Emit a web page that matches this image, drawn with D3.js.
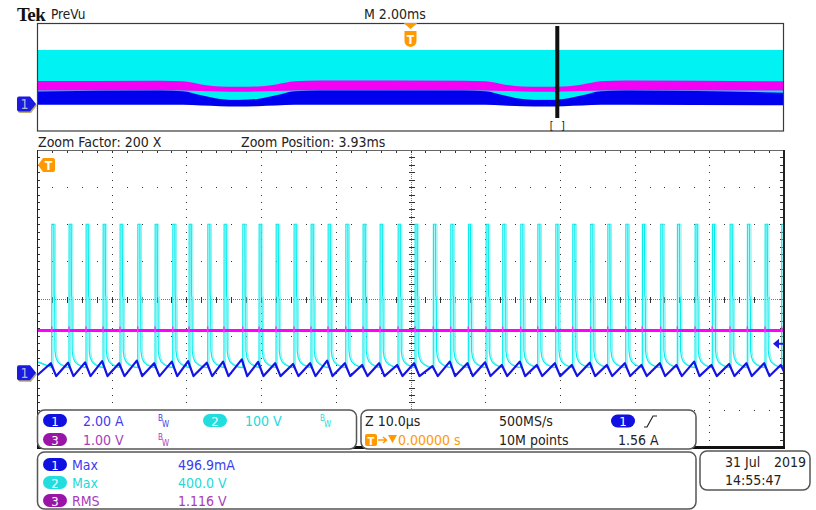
<!DOCTYPE html>
<html>
<head>
<meta charset="utf-8">
<script src="https://cdn.jsdelivr.net/npm/d3@7/dist/d3.min.js"></script>
<style>
  body { margin: 0; background: #fff; }
  svg { display: block; }
  text { font-family: "DejaVu Sans Condensed", "DejaVu Sans", sans-serif; }
</style>
</head>
<body>
<div id="scope"></div>
<script>
'use strict';

// ---- channel setup (all three grounds sit 2 div below centre)
var chScale  = { 1: 2.00, 2: 100, 3: 1.00 };   // units per div
var chOffset = -2;                               // div
var chColor  = { 1: '#1414e6', 2: '#00eeee', 3: '#ff00ff' };

// ---- PreVu envelopes, whole record at 2.00 ms/div
var preTime    = [0, 3.3, 3.9, 4.4, 4.9, 5.4, 5.9, 6.4, 6.9, 7.6, 11.4, 12.0, 12.5, 13.0, 13.6, 14.1, 14.6, 15.1, 15.8, 20];
var preCh2Top  = [400, 400, 400, 400, 400, 400, 400, 400, 400, 400, 400, 400, 400, 400, 400, 400, 400, 400, 400, 400];
var preCh2Bot  = [32, 32, 32, 32, 32, 32, 32, 32, 32, 32, 32, 32, 32, 32, 32, 32, 32, 32, 32, 32];
var preCh3Top  = [1.70, 1.73, 1.68, 1.45, 1.30, 1.27, 1.30, 1.45, 1.68, 1.74, 1.73, 1.68, 1.45, 1.30, 1.27, 1.30, 1.45, 1.68, 1.74, 1.68];
var preCh3Bot  = [1.00, 1.00, 1.00, 0.97, 0.93, 0.91, 0.93, 0.97, 1.00, 1.00, 1.00, 1.00, 0.97, 0.93, 0.91, 0.93, 0.97, 1.00, 1.00, 1.00];
var preCh1Top  = [1.86, 2.00, 1.90, 1.30, 0.75, 0.62, 0.75, 1.30, 1.90, 2.00, 2.00, 1.90, 1.30, 0.75, 0.62, 0.75, 1.30, 1.90, 2.00, 1.68];
var preCh1Bot  = [-0.10, -0.10, -0.12, -0.24, -0.34, -0.38, -0.34, -0.24, -0.12, -0.10, -0.10, -0.12, -0.24, -0.34, -0.38, -0.34, -0.24, -0.12, -0.10, -0.20];
var zoomPos = 13.93;   // ms, 3.93 ms after trigger

// ---- zoomed window, 10.0 us/div (0..100 us)
var pulseTimes = [1.97, 4.28, 6.56, 8.84, 11.11, 13.48, 15.80, 18.17, 20.35, 22.85, 25.03, 27.54, 29.72,
                  32.00, 34.40, 36.68, 38.96, 41.33, 43.64, 45.92, 48.33, 50.60, 53.05, 55.38, 57.74, 60.11,
                  62.34, 64.75, 67.03, 69.44, 71.71, 74.12, 76.40, 78.81, 81.03, 83.49, 85.72, 88.09, 90.40,
                  92.77, 95.09, 97.46, 99.69];
var ch1Peaks = [0.51, 0.54, 0.56, 0.63, 0.51, 0.65, 0.51, 0.60, 0.63, 0.54, 0.60, 0.72, 0.58, 0.51, 0.47,
                0.51, 0.65, 0.51, 0.42, 0.51, 0.42, 0.51, 0.36, 0.60, 0.51, 0.56, 0.42, 0.60, 0.42, 0.51,
                0.42, 0.54, 0.42, 0.51, 0.42, 0.51, 0.42, 0.60, 0.42, 0.47, 0.51, 0.51, 0.42];
var ch1Trough = -0.18;      // A
var ch2Edge = [[0, 14], [0.02, 400], [0.30, 400], [0.33, 210], [0.40, 200], [0.43, 60],
               [0.55, 42], [0.80, 30], [1.20, 22], [1.90, 15]];   // [us after edge, V]
var ch3Level = 1.14;        // V
var trigLevel = 1.56;       // A

// ---- readouts
var settingsRows = [
  [{ ch: 1, x: 43, text: '2.00 A', tx: 83, bw: 158 }, { ch: 2, x: 203, text: '100 V', tx: 245, bw: 320 }],
  [{ ch: 3, x: 43, text: '1.00 V', tx: 83, bw: 158 }]
];
var measRows = [
  { ch: 1, name: 'Max', value: '496.9mA' },
  { ch: 2, name: 'Max', value: '400.0 V' },
  { ch: 3, name: 'RMS', value: '1.116 V' }
];
var pillColor = { 1: '#1010e0', 2: '#22dddd', 3: '#9a14a8' };
var textColor = { 1: '#3c3cf0', 2: '#22dada', 3: '#a83cb8' };
var orange = '#ff9900';

var W = 816, H = 510;
var svg = d3.select('#scope').append('svg').attr('width', W).attr('height', H);

function toDiv(ch, v) { return v / chScale[ch] + chOffset; }

// =========================== PreVu window
var xPre = d3.scaleLinear().domain([0, 20]).range([37, 784]);
var yPre = d3.scaleLinear().domain([-4, 4]).range([131, 23]);

function band(ch, top, bot) {
  return d3.area()
    .curve(d3.curveMonotoneX)
    .x(function(d, i) { return xPre(preTime[i]); })
    .y0(function(d, i) { return yPre(toDiv(ch, bot[i])); })
    .y1(function(d, i) { return yPre(toDiv(ch, top[i])); })(preTime);
}
var pre = svg.append('g');
pre.append('path').attr('d', band(2, preCh2Top, preCh2Bot)).attr('fill', '#00f2f2');
pre.append('path').attr('d', band(3, preCh3Top, preCh3Bot)).attr('fill', '#f400f4');
pre.append('path').attr('d', band(1, preCh1Top, preCh1Bot)).attr('fill', '#0000ee');
pre.append('rect').attr('x', 37.5).attr('y', 23.5).attr('width', 746).attr('height', 107.5)
   .attr('fill', 'none').attr('stroke', '#3a3a3a').attr('stroke-width', 1.2);

// zoom position bar
pre.append('rect').attr('x', xPre(zoomPos) - 2).attr('y', 26).attr('width', 4).attr('height', 92).attr('fill', '#111');
pre.append('text').attr('x', xPre(zoomPos)).attr('y', 129).attr('text-anchor', 'middle')
   .attr('font-size', 10).style('font-family', 'DejaVu Sans Mono').attr('fill', '#222').text('[ ]');

// trigger marker on top of PreVu
var tx = xPre(10);
pre.append('path').attr('d', 'M' + (tx - 7) + ',23 H' + (tx + 7) + ' L' + tx + ',29 Z').attr('fill', orange);
pre.append('path').attr('d', 'M' + (tx - 6) + ',31 H' + (tx + 6) + ' V41 Q' + (tx + 6) + ',46 ' + tx + ',47 Q' + (tx - 6) + ',46 ' + (tx - 6) + ',41 Z')
   .attr('fill', orange);
pre.append('text').attr('x', tx).attr('y', 43.5).attr('text-anchor', 'middle').attr('font-size', 12)
   .attr('font-weight', 'bold').attr('fill', '#fff').text('T');

// ch1 ground marker
function chMarker(y) {
  var g = svg.append('g');
  var d = 'M19,' + (y - 7.5) + ' H30 L36,' + y + ' L30,' + (y + 7.5) + ' H19 Q17,' + (y + 7.5) + ' 17,' + (y + 5.5) + ' V' + (y - 5.5) + ' Q17,' + (y - 7.5) + ' 19,' + (y - 7.5) + ' Z';
  g.append('path').attr('d', d).attr('fill', '#b8aa70').attr('transform', 'translate(1,1.5)');
  g.append('path').attr('d', d).attr('fill', '#1a1ae0');
  g.append('text').attr('x', 24.5).attr('y', y + 5).attr('text-anchor', 'middle').attr('font-size', 14)
   .attr('fill', '#b4b4d8').text('1');
}
chMarker(yPre(chOffset));

// =========================== main (zoom) graticule
var x0 = 37, x1 = 784, y0 = 150, y1 = 447;
var xMain = d3.scaleLinear().domain([0, 100]).range([x0, x1]);
var yMain = d3.scaleLinear().domain([-4, 4]).range([y1, y0]);
var grid = svg.append('g').attr('shape-rendering', 'crispEdges');

var minorX = d3.range(1, 50).map(function(k) { return x0 + k * (x1 - x0) / 50; });
var minorY = d3.range(1, 40).map(function(k) { return y0 + k * (y1 - y0) / 40; });
var majorX = [1, 2, 3, 4, 6, 7, 8, 9].map(function(k) { return xMain(k * 10); });
var majorY = [-3, -2, -1, 1, 2, 3].map(function(k) { return yMain(k); });

majorX.forEach(function(gx) {
  grid.selectAll(null).data(minorY).enter().append('rect')
    .attr('x', Math.round(gx)).attr('y', function(d) { return Math.round(d); })
    .attr('width', 1).attr('height', 1).attr('fill', '#333');
});
majorY.forEach(function(gy) {
  grid.selectAll(null).data(minorX).enter().append('rect')
    .attr('x', function(d) { return Math.round(d); }).attr('y', Math.round(gy))
    .attr('width', 1).attr('height', 1).attr('fill', '#333');
});

// centre cross
var cx = Math.round(xMain(50)) + 0.5, cy = Math.round(yMain(0)) + 0.5;
grid.append('line').attr('x1', cx).attr('x2', cx).attr('y1', y0).attr('y2', y1)
    .attr('stroke', '#777').attr('stroke-dasharray', '1,1');
grid.append('line').attr('x1', x0).attr('x2', x1).attr('y1', cy).attr('y2', cy)
    .attr('stroke', '#777').attr('stroke-dasharray', '1,1');
grid.selectAll(null).data(minorY).enter().append('line')
    .attr('x1', cx - 3).attr('x2', cx + 3).attr('y1', function(d) { return Math.round(d) + 0.5; })
    .attr('y2', function(d) { return Math.round(d) + 0.5; }).attr('stroke', '#333');
grid.selectAll(null).data(minorX).enter().append('line')
    .attr('y1', cy - 3).attr('y2', cy + 3).attr('x1', function(d) { return Math.round(d) + 0.5; })
    .attr('x2', function(d) { return Math.round(d) + 0.5; }).attr('stroke', '#333');

// edge ticks
grid.selectAll(null).data(minorX).enter().append('line')
    .attr('x1', function(d) { return Math.round(d) + 0.5; }).attr('x2', function(d) { return Math.round(d) + 0.5; })
    .attr('y1', y0).attr('y2', y0 + 3).attr('stroke', '#333');
grid.selectAll(null).data(minorY).enter().append('line')
    .attr('y1', function(d) { return Math.round(d) + 0.5; }).attr('y2', function(d) { return Math.round(d) + 0.5; })
    .attr('x1', x0).attr('x2', x0 + 3).attr('stroke', '#333');
grid.selectAll(null).data(minorY).enter().append('line')
    .attr('y1', function(d) { return Math.round(d) + 0.5; }).attr('y2', function(d) { return Math.round(d) + 0.5; })
    .attr('x1', x1 - 4).attr('x2', x1).attr('stroke', '#333');

// frame
grid.append('line').attr('x1', x0).attr('x2', x1).attr('y1', y0 + 0.5).attr('y2', y0 + 0.5).attr('stroke', '#666').attr('stroke-width', 1.5);
grid.append('line').attr('x1', x0 + 0.5).attr('x2', x0 + 0.5).attr('y1', y0).attr('y2', y1).attr('stroke', '#222');
grid.append('line').attr('x1', x1).attr('x2', x1).attr('y1', y0).attr('y2', y1 + 1).attr('stroke', '#222').attr('stroke-width', 2);
grid.append('line').attr('x1', x0).attr('x2', x1 + 1).attr('y1', y1).attr('y2', y1).attr('stroke', '#111').attr('stroke-width', 3);

// =========================== main traces
svg.append('clipPath').attr('id', 'screen').append('rect')
   .attr('x', x0 + 1).attr('y', y0).attr('width', x1 - x0 - 2).attr('height', y1 - y0);
var traces = svg.append('g').attr('clip-path', 'url(#screen)');
var line = d3.line().x(function(d) { return xMain(d[0]); }).y(function(d) { return yMain(d[1]); });

// ch2: switch node
var ch2Pts = [[0, toDiv(2, 30)]];
pulseTimes.forEach(function(t0) {
  ch2Edge.forEach(function(p) { ch2Pts.push([t0 + p[0], toDiv(2, p[1])]); });
});
traces.append('path').attr('d', line(ch2Pts.map(function(p) { return [p[0] + 0.2, p[1]]; })))
      .attr('fill', 'none').attr('stroke', '#86f4f4').attr('stroke-width', 1);
traces.append('path').attr('d', line(ch2Pts))
      .attr('fill', 'none').attr('stroke', '#08ecec').attr('stroke-width', 1.2);

// ch3: flat with switching blips
var ch3Y = toDiv(3, ch3Level);
traces.append('path').attr('d', line([[0, ch3Y], [100, ch3Y]]))
      .attr('stroke', chColor[3]).attr('stroke-width', 3);
traces.selectAll(null).data(pulseTimes).enter().append('line')
      .attr('x1', function(d) { return xMain(d); }).attr('x2', function(d) { return xMain(d); })
      .attr('y1', yMain(ch3Y) - 4).attr('y2', yMain(ch3Y) + 2)
      .attr('stroke', '#ff30ff').attr('stroke-width', 1.5);

// ch1: inductor current sawtooth
var ch1Pts = [[0, -0.15]];
pulseTimes.forEach(function(t0, i) {
  ch1Pts.push([t0 - 0.12, ch1Peaks[i]]);
  ch1Pts.push([t0 + 0.6, ch1Trough]);
});
traces.append('path').attr('d', line(ch1Pts.map(function(p) { return [p[0], toDiv(1, p[1])]; })))
      .attr('fill', 'none').attr('stroke', chColor[1]).attr('stroke-width', 2.2).attr('stroke-linejoin', 'round');

// trigger level arrow on the right
var ty = yMain(toDiv(1, trigLevel));
svg.append('path').attr('d', 'M773,' + ty + ' L779,' + (ty - 5) + ' V' + (ty + 5) + ' Z').attr('fill', '#1a1ae0');
svg.append('line').attr('x1', 777).attr('x2', 784).attr('y1', ty).attr('y2', ty).attr('stroke', '#1a1ae0').attr('stroke-width', 2);

// trigger position marker
svg.append('path').attr('d', 'M38,165 L43,158 H53 Q55,158 55,160 V170 Q55,172 53,172 H43 Z').attr('fill', orange);
svg.append('text').attr('x', 48.5).attr('y', 170).attr('text-anchor', 'middle').attr('font-size', 12)
   .attr('font-weight', 'bold').attr('fill', '#fff').text('T');

chMarker(yMain(chOffset));

// =========================== top labels
svg.append('text').attr('x', 17).attr('y', 20.5).style('font-family', '"Liberation Serif", "DejaVu Serif", serif')
   .attr('font-weight', 'bold').attr('font-size', 19).attr('letter-spacing', -0.6).attr('fill', '#111').text('Tek');
svg.append('text').attr('x', 51).attr('y', 19).attr('font-size', 13.5).attr('fill', '#222').text('PreVu');
svg.append('text').attr('x', 364).attr('y', 19).attr('font-size', 14).attr('fill', '#222').text('M 2.00ms');
svg.append('text').attr('x', 38).attr('y', 147).attr('font-size', 14).attr('fill', '#222').text('Zoom Factor: 200 X');
svg.append('text').attr('x', 241).attr('y', 147).attr('font-size', 14).attr('fill', '#222').text('Zoom Position: 3.93ms');

// =========================== readout panels
function panel(x, y, w, h) {
  svg.append('rect').attr('x', x).attr('y', y).attr('width', w).attr('height', h).attr('rx', 7)
     .attr('fill', '#fff').attr('stroke', '#555').attr('stroke-width', 1.5);
}
function pill(x, y, ch) {
  svg.append('rect').attr('x', x).attr('y', y).attr('width', 24).attr('height', 13).attr('rx', 6.5)
     .attr('fill', pillColor[ch]);
  svg.append('text').attr('x', x + 12).attr('y', y + 11.5).attr('text-anchor', 'middle').attr('font-size', 13)
     .attr('fill', '#fff').text(ch);
}
function bw(x, y, color) {
  svg.append('text').attr('x', x).attr('y', y - 5).attr('font-size', 8).attr('fill', color).text('B');
  svg.append('text').attr('x', x + 4).attr('y', y + 1).attr('font-size', 8).attr('fill', color).text('W');
}

panel(37.5, 410, 319, 39);
panel(361, 410, 335, 39);
panel(37.5, 452, 658.5, 57);
panel(700, 451, 110, 39);

settingsRows.forEach(function(row, r) {
  var base = r === 0 ? 426 : 445;
  row.forEach(function(c) {
    pill(c.x, base - 12, c.ch);
    svg.append('text').attr('x', c.tx).attr('y', base).attr('font-size', 14).attr('fill', textColor[c.ch]).text(c.text);
    bw(c.bw, base, textColor[c.ch]);
  });
});

svg.append('text').attr('x', 365).attr('y', 426).attr('font-size', 14).attr('fill', '#222').text('Z 10.0µs');
svg.append('text').attr('x', 499).attr('y', 426).attr('font-size', 14).attr('fill', '#222').text('500MS/s');
pill(611, 414.5, 1);
svg.append('path').attr('d', 'M644,427 H647 L653,416 H657').attr('fill', 'none').attr('stroke', '#222').attr('stroke-width', 1.2);
svg.append('rect').attr('x', 365).attr('y', 434).attr('width', 12).attr('height', 12).attr('rx', 2).attr('fill', orange);
svg.append('text').attr('x', 371).attr('y', 444.5).attr('text-anchor', 'middle').attr('font-size', 11)
   .attr('font-weight', 'bold').attr('fill', '#fff').text('T');
svg.append('path').attr('d', 'M378,440 H386 M383,437 L386.5,440 L383,443').attr('fill', 'none').attr('stroke', orange).attr('stroke-width', 1.5);
svg.append('path').attr('d', 'M388,435 H397 L392.5,443 Z').attr('fill', orange);
svg.append('text').attr('x', 398).attr('y', 445).attr('font-size', 14).attr('fill', orange).text('0.00000 s');
svg.append('text').attr('x', 499).attr('y', 445).attr('font-size', 14).attr('fill', '#222').text('10M points');
svg.append('text').attr('x', 618).attr('y', 445).attr('font-size', 14).attr('fill', '#222').text('1.56 A');

measRows.forEach(function(m, i) {
  var base = 470 + i * 18;
  pill(43, base - 12, m.ch);
  svg.append('text').attr('x', 72).attr('y', base).attr('font-size', 14).attr('fill', textColor[m.ch]).text(m.name);
  svg.append('text').attr('x', 178).attr('y', base).attr('font-size', 14).attr('fill', textColor[m.ch]).text(m.value);
});

svg.append('text').attr('x', 725).attr('y', 467).attr('font-size', 14).attr('fill', '#222').text('31 Jul');
svg.append('text').attr('x', 774).attr('y', 467).attr('font-size', 14).attr('fill', '#222').text('2019');
svg.append('text').attr('x', 725).attr('y', 485).attr('font-size', 14).attr('fill', '#222').text('14:55:47');
</script>
</body>
</html>
